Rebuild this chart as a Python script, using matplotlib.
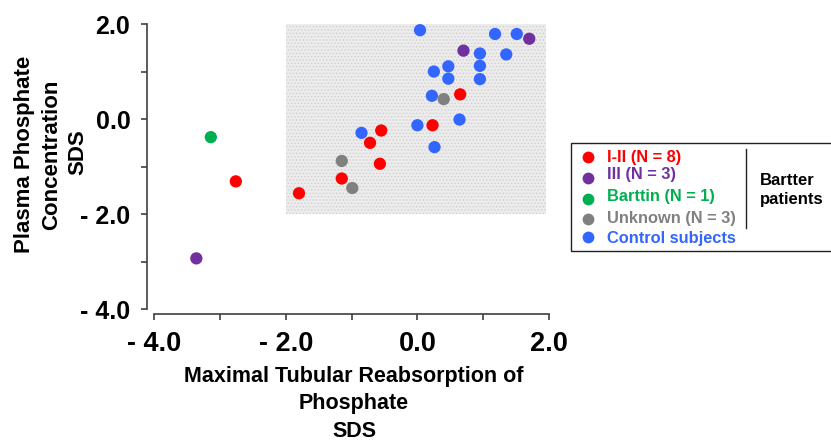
import matplotlib
matplotlib.use("Agg")
import matplotlib.pyplot as plt
from matplotlib.patches import Rectangle
from matplotlib.lines import Line2D

plt.rcParams['font.family'] = ['Liberation Sans', 'DejaVu Sans']
plt.rcParams['font.weight'] = 'bold'
plt.rcParams['hatch.linewidth'] = 0.6

# data (SDS units)
red_x = [0.65, 0.23, -0.55, -0.72, -0.57, -1.15, -1.80, -2.76]
red_y = [0.52, -0.13, -0.24, -0.50, -0.94, -1.25, -1.56, -1.31]
purple_x = [0.70, 1.70, -3.36]
purple_y = [1.44, 1.69, -2.93]
green_x = [-3.14]
green_y = [-0.38]
gray_x = [0.40, -1.15, -0.99]
gray_y = [0.42, -0.88, -1.45]
blue_x = [0.04, 1.18, 1.51, 0.95, 1.35, 0.25, 0.47, 0.47, 0.95, 0.95,
          0.22, 0.64, 0.00, -0.85, 0.26]
blue_y = [1.87, 1.79, 1.79, 1.38, 1.36, 1.00, 1.11, 0.85, 1.12, 0.84,
          0.49, -0.01, -0.13, -0.29, -0.59]

groups = [
    ('I-II (N = 8)', red_x, red_y, '#ff0000'),
    ('III (N = 3)', purple_x, purple_y, '#7030a0'),
    ('Barttin (N = 1)', green_x, green_y, '#00b050'),
    ('Unknown (N = 3)', gray_x, gray_y, '#808080'),
    ('Control subjects', blue_x, blue_y, '#3366ff'),
]
ylabel_lines = ['Plasma Phosphate', 'Concentration', 'SDS']

W, H = 831, 442
fig = plt.figure(figsize=(W / 100, H / 100), dpi=100)
ax = fig.add_axes([147 / W, (H - 314) / H, (549 - 147) / W, (314 - 24) / H])

# normal range box
ax.add_patch(Rectangle((-2.0, -2.0), 3.95, 4.0, facecolor='#ececec',
                       edgecolor='#d0d0d0', hatch='.....', linewidth=0, zorder=0))

for label, xs, ys, c in groups:
    ax.scatter(xs, ys, s=78, color=c, edgecolors='none', zorder=3, clip_on=False)

ax.set_xlim(-4.11, 2.0)
ax.set_ylim(-4.10, 2.0)
for side in ['top', 'right']:
    ax.spines[side].set_visible(False)
ax.spines['bottom'].set_bounds(-4, 2)
ax.spines['left'].set_bounds(-4, 2)
for side in ['bottom', 'left']:
    ax.spines[side].set_color('#404040')
    ax.spines[side].set_linewidth(1.2)

ax.set_xticks([-4, -2, 0, 2])
ax.set_xticks([-3, -1, 1], minor=True)
ax.set_yticks([-4, -2, 0, 2])
ax.set_yticks([-3, -1, 1], minor=True)
ax.set_xticklabels(['- 4.0', '- 2.0', '0.0', '2.0'])
ax.set_yticklabels(['- 4.0', '- 2.0', '0.0', '2.0'])
ax.tick_params(which='both', direction='out', length=4, width=1.2, color='#404040')
ax.tick_params(axis='x', labelsize=19.5, pad=8)
ax.tick_params(axis='y', labelsize=18, pad=8)

fig.text(354 / W, 1 - 404 / H, 'Maximal Tubular Reabsorption of\nPhosphate\nSDS',
         ha='center', va='center', fontsize=15.5, linespacing=1.4)
# y label, one text per line
for line, xpix, ypix in zip(ylabel_lines, [25, 52, 78], [154, 155, 152]):
    fig.text(xpix / W, 1 - ypix / H, line, ha='center', va='center',
             fontsize=16, rotation=90)

# legend drawn by hand
fig.patches.append(Rectangle((571 / W, 1 - 251 / H), 300 / W, 108 / H,
                             transform=fig.transFigure, facecolor='white',
                             edgecolor='#222222', linewidth=1.0))
mk_y = [157, 178, 199, 219, 237]
tx_y = [157, 175, 197, 219, 238]
for (label, xs, ys, c), my, ty in zip(groups, mk_y, tx_y):
    fig.add_artist(Line2D([588 / W], [1 - my / H], marker='o', markersize=8.5,
                          color=c, markeredgecolor='none', linestyle='none',
                          transform=fig.transFigure))
    fig.text(607 / W, 1 - ty / H, label, color=c, fontsize=11.8, va='center', ha='left')
fig.add_artist(Line2D([746 / W, 746 / W], [1 - 149 / H, 1 - 228 / H],
                      color='#222222', linewidth=1.0, transform=fig.transFigure))
fig.text(760 / W, 1 - 190 / H, 'Bartter\npatients', fontsize=12, va='center',
         ha='left', linespacing=1.3)

fig.savefig('out.png', dpi=100)
